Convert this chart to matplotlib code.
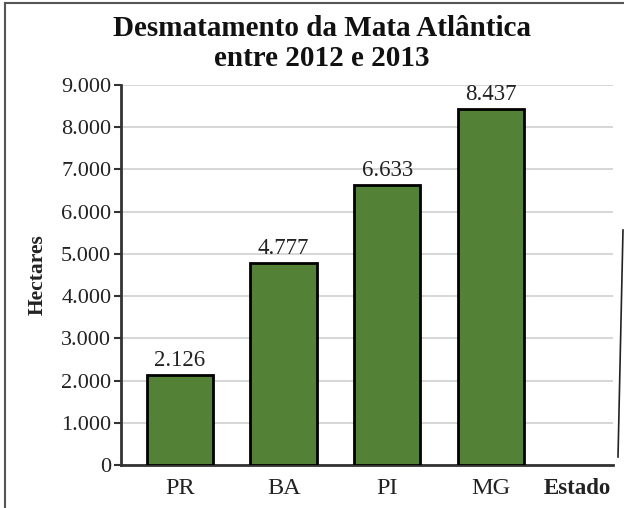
import matplotlib
matplotlib.use('Agg')
import matplotlib.pyplot as plt
from matplotlib.lines import Line2D

estados = ['PR', 'BA', 'PI', 'MG']
hectares = [2126, 4777, 6633, 8437]
y_ticks = [0, 1000, 2000, 3000, 4000, 5000, 6000, 7000, 8000, 9000]


def fmt(v):
    return f'{v:,}'.replace(',', '.')


plt.rcParams['font.family'] = ['Liberation Serif', 'DejaVu Serif']

W, H = 624, 508
fig = plt.figure(figsize=(W / 100, H / 100), dpi=100)
ax = fig.add_axes([121 / W, 1 - 465 / H, (613 - 121) / W, (465 - 85) / H])

x = list(range(len(estados)))
ax.bar(x, hectares, width=0.64, color='#538135', edgecolor='black',
       linewidth=2, zorder=3)
for xi, v in zip(x, hectares):
    ax.annotate(fmt(v), (xi, v), xytext=(0, 3), textcoords='offset points',
                ha='center', va='bottom', fontsize=16.5, color='#222222')

ax.set_xlim(-0.57, 4.18)
ax.set_ylim(0, 9000)
ax.set_yticks(y_ticks)
ax.set_yticklabels([fmt(t) for t in y_ticks], color='#222222')
ax.set_xticks(x)
ax.set_xticklabels(estados, color='#222222')
ax.tick_params(axis='x', length=0, pad=9, labelsize=17.5)
ax.tick_params(axis='y', length=5, width=1.5, color='#333333', pad=2,
               labelsize=16)
ax.yaxis.grid(True, color='#cfcfcf', linewidth=1.2, zorder=0)
ax.set_axisbelow(True)
for s in ['top', 'right']:
    ax.spines[s].set_visible(False)
for s in ['left', 'bottom']:
    ax.spines[s].set_color('#333333')
    ax.spines[s].set_linewidth(2)

ax.text(3.84, -(488 - 465) / 380, 'Estado', transform=ax.get_xaxis_transform(),
        ha='center', va='center', fontsize=16.5, fontweight='bold',
        color='#222222')
ax.set_ylabel('Hectares', fontsize=15.5, fontweight='bold', labelpad=10,
              color='#222222')

fig.text(322 / W, 1 - 28 / H, 'Desmatamento da Mata Atlântica',
         ha='center', va='center', fontsize=21, fontweight='bold',
         color='#111111')
fig.text(322 / W, 1 - 58 / H, 'entre 2012 e 2013',
         ha='center', va='center', fontsize=21, fontweight='bold',
         color='#111111')

# frame around the figure
fig.add_artist(Line2D([5 / W, 5 / W], [0, 1 - 3 / H], color='#555555',
                      linewidth=1.5, transform=fig.transFigure))
fig.add_artist(Line2D([5 / W, 1], [1 - 3 / H, 1 - 3 / H], color='#555555',
                      linewidth=1.5, transform=fig.transFigure))
fig.add_artist(Line2D([623 / W, 618 / W], [1 - 230 / H, 1 - 457 / H],
                      color='#222222', linewidth=1.2, transform=fig.transFigure))

fig.savefig('out.png', dpi=100)
